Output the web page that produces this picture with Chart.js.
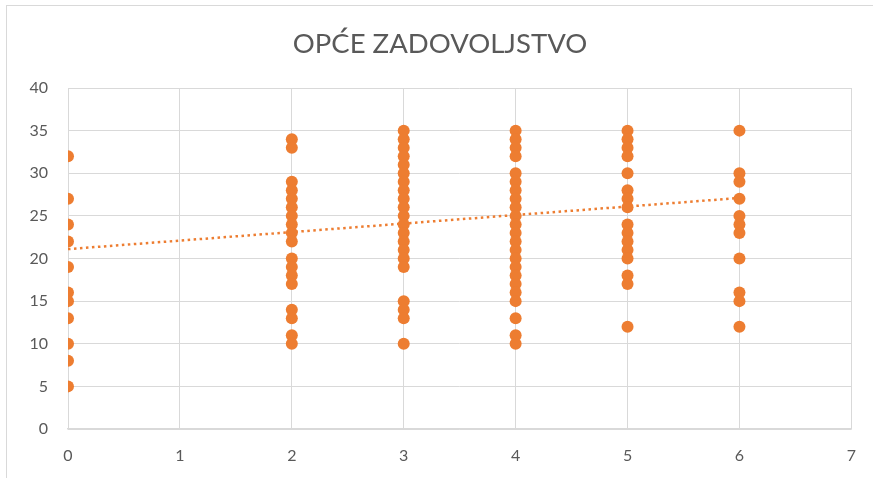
<!DOCTYPE html>
<html>
<head>
<meta charset="utf-8">
<script src="https://cdn.jsdelivr.net/npm/chart.js@4.4.0/dist/chart.umd.min.js"></script>
<style>
  html, body { margin: 0; padding: 0; background: #fff; }
  #wrap { position: relative; width: 873px; height: 478px; overflow: hidden; }
  #frame { position: absolute; left: 6px; top: 5px; width: 900px; height: 500px; border: 1px solid #d9d9d9; box-sizing: border-box; }
  canvas { position: absolute; left: 0; top: 0; }
</style>
</head>
<body>
<div id="wrap">
  <div id="frame"></div>
  <canvas id="chart" width="873" height="478"></canvas>
</div>
<script>
// === Data ===
const scoresAt0 = [32, 27, 24, 22, 19, 16, 15, 13, 10, 8, 5];
const scoresAt2 = [34, 33, 29, 28, 27, 26, 25, 24, 23, 22, 20, 19, 18, 17, 14, 13, 11, 10];
const scoresAt3 = [35, 34, 33, 32, 31, 30, 29, 28, 27, 26, 25, 24, 23, 22, 21, 20, 19, 15, 14, 13, 10];
const scoresAt4 = [35, 34, 33, 32, 30, 29, 28, 27, 26, 25, 24, 23, 22, 21, 20, 19, 18, 17, 16, 15, 13, 11, 10];
const scoresAt5 = [35, 34, 33, 32, 30, 28, 27, 26, 24, 23, 22, 21, 20, 18, 17, 12];
const scoresAt6 = [35, 30, 29, 27, 25, 24, 23, 20, 16, 15, 12];

const groupX = [0, 2, 3, 4, 5, 6];
const groups = [scoresAt0, scoresAt2, scoresAt3, scoresAt4, scoresAt5, scoresAt6];

// linear trendline ends as seen in the picture
const trendX = [0, 6];
const trendY = [21.1, 27.1];

const xTicks = [0, 1, 2, 3, 4, 5, 6, 7];
const yTicks = [0, 5, 10, 15, 20, 25, 30, 35, 40];

const ORANGE = '#ED7D31';
const TEXT = '#595959';
const GRID = '#D9D9D9';
const FONT = 'Lato, "Open Sans", sans-serif';

// build scatter points
const points = [];
groups.forEach((g, i) => g.forEach(v => points.push({ x: groupX[i], y: v })));

const trendPoints = trendX.map((x, i) => ({ x: x, y: trendY[i] }));

const ctx = document.getElementById('chart').getContext('2d');
new Chart(ctx, {
    type: 'scatter',
    data: {
        datasets: [{
            label: 'Series1',
            data: points,
            backgroundColor: ORANGE,
            borderColor: ORANGE,
            pointRadius: 6,
            pointHoverRadius: 6,
            borderWidth: 0
        }, {
            type: 'line',
            label: 'Trend',
            data: trendPoints,
            borderColor: ORANGE,
            borderWidth: 2.5,
            borderDash: [2.5, 3.5],
            pointRadius: 0,
            fill: false
        }]
    },
    options: {
        responsive: false,
        animation: false,
        // left padding nudges the title centre to the right like the reference
        layout: { padding: { left: 28, right: 21, top: 0, bottom: 0 } },
        plugins: {
            legend: { display: false },
            tooltip: { enabled: false },
            title: {
                display: true,
                text: 'OPĆE ZADOVOLJSTVO',
                color: TEXT,
                font: { family: FONT, size: 27.5, weight: 'normal' },
                padding: { top: 28, bottom: 27 }
            }
        },
        scales: {
            x: {
                type: 'linear',
                min: 0, max: 7,
                afterBuildTicks: axis => { axis.ticks = xTicks.map(v => ({ value: v })); },
                afterFit: axis => { axis.height = 49; },
                grid: { color: GRID, lineWidth: 1, drawTicks: false },
                border: { color: GRID, width: 1.5 },
                ticks: { color: TEXT, font: { family: FONT, size: 16 }, padding: 17 }
            },
            y: {
                min: 0, max: 40,
                afterBuildTicks: axis => { axis.ticks = yTicks.map(v => ({ value: v })); },
                afterFit: axis => { axis.width = 40; },
                grid: { color: GRID, lineWidth: 1, drawTicks: false },
                border: { display: false },
                ticks: { color: TEXT, font: { family: FONT, size: 16 }, padding: 20 }
            }
        }
    }
});
</script>
</body>
</html>
